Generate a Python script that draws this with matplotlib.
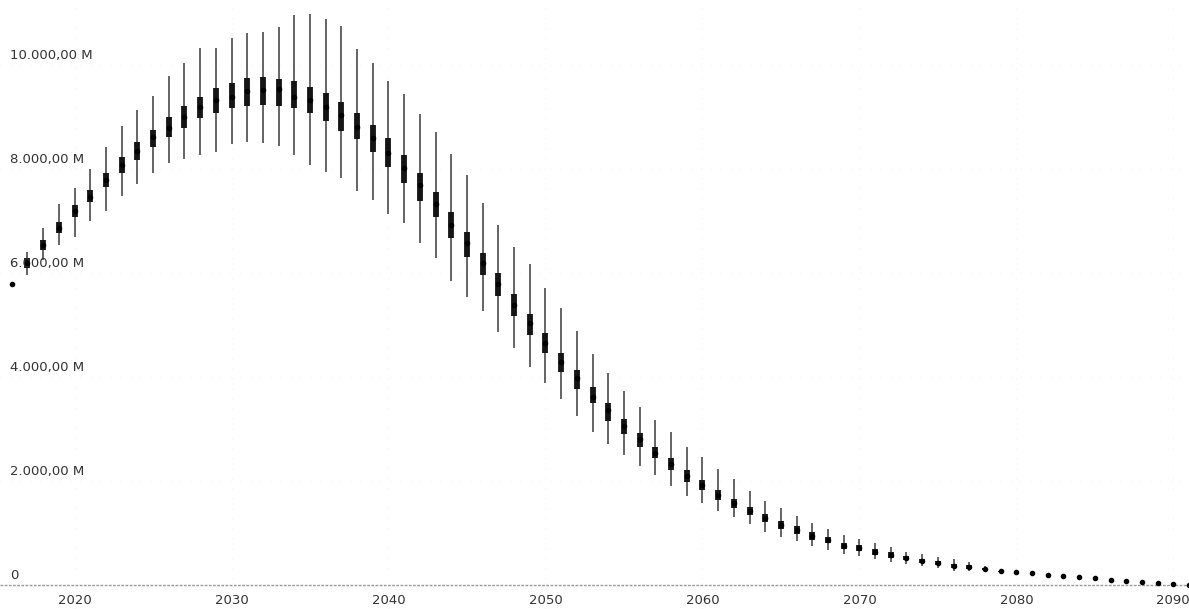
import matplotlib
matplotlib.use("Agg")
import matplotlib.pyplot as plt

# yearly distribution (values in millions): low whisker, q1, median, q3, high whisker
years = list(range(2016, 2092))

low = [5790, 5960, 6250, 6540, 6690, 7000, 7190, 7480, 7710, 7920,
       8115, 8190, 8270, 8330, 8480, 8520, 8500, 8440, 8270, 8080,
       7940, 7830, 7580, 7400, 7135, 6960, 6580, 6290, 5850, 5540,
       5270, 4865, 4560, 4190, 3885, 3580, 3250, 2940, 2710, 2500,
       2290, 2115, 1900, 1710, 1580, 1420, 1310, 1170, 1020, 920,
       850, 750, 670, 600, 560, 500, 440, 405, 365, 325,
       270, 270, 250, 240, 230, 215, 185, 166, 148, 129,
       90, 72, 54, 34, 15, 0]
q1 = [5790, 6100, 6440, 6770, 7080, 7365, 7650, 7920, 8170, 8420,
      8615, 8790, 8980, 9080, 9170, 9210, 9230, 9210, 9170, 9080,
      8920, 8730, 8580, 8330, 8040, 7730, 7385, 7080, 6670, 6310,
      5960, 5560, 5170, 4810, 4460, 4100, 3770, 3500, 3150, 2900,
      2650, 2440, 2210, 1980, 1830, 1635, 1480, 1350, 1210, 1080,
      980, 865, 810, 690, 655, 580, 520, 480, 425, 385,
      330, 310, 290, 260, 245, 225, 192, 173, 154, 135,
      96, 77, 58, 38, 19, 0]
median = [5790, 6190, 6540, 6865, 7190, 7460, 7790, 8080, 8350, 8615,
          8790, 9000, 9190, 9330, 9385, 9500, 9520, 9540, 9385, 9330,
          9190, 9040, 8810, 8600, 8310, 8020, 7690, 7330, 6920, 6580,
          6190, 5790, 5385, 5040, 4650, 4290, 3980, 3615, 3365, 3060,
          2810, 2540, 2330, 2100, 1920, 1730, 1580, 1420, 1290, 1150,
          1060, 940, 865, 750, 710, 635, 575, 520, 460, 425,
          365, 345, 310, 270, 250, 231, 192, 173, 154, 135,
          96, 77, 58, 38, 19, 0]
q3 = [5790, 6290, 6635, 6980, 7310, 7600, 7920, 8230, 8520, 8750,
      9000, 9210, 9385, 9560, 9650, 9750, 9770, 9730, 9690, 9580,
      9460, 9290, 9080, 8850, 8600, 8270, 7920, 7560, 7170, 6790,
      6385, 6000, 5600, 5210, 4850, 4460, 4135, 3810, 3500, 3190,
      2920, 2650, 2440, 2210, 2020, 1830, 1650, 1500, 1365, 1230,
      1135, 1020, 920, 810, 770, 690, 635, 560, 500, 460,
      405, 385, 330, 280, 255, 237, 192, 173, 154, 135,
      96, 77, 58, 38, 19, 0]
high = [5790, 6400, 6865, 7330, 7635, 8000, 8420, 8830, 9135, 9400,
        9790, 10040, 10330, 10330, 10520, 10615, 10635, 10730, 10960, 10980,
        10885, 10750, 10310, 10040, 9690, 9440, 9060, 8710, 8290, 7885,
        7345, 6920, 6500, 6170, 5710, 5330, 4885, 4440, 4080, 3730,
        3420, 3170, 2940, 2650, 2460, 2230, 2040, 1810, 1615, 1480,
        1330, 1190, 1080, 960, 885, 810, 730, 635, 595, 540,
        500, 440, 365, 300, 270, 245, 200, 180, 160, 140,
        100, 80, 62, 42, 22, 0]

y_ticks = [0, 2000, 4000, 6000, 8000, 10000]
y_tick_labels = ["0", "2.000,00 M", "4.000,00 M", "6.000,00 M", "8.000,00 M", "10.000,00 M"]
x_ticks = [2020, 2030, 2040, 2050, 2060, 2070, 2080, 2090]

fig = plt.figure(figsize=(11.89, 6.09), dpi=100)
ax = fig.add_axes([0, 0, 1, 1])
ax.set_xlim(2015.25, 2091.0)
ax.set_ylim(-460, 11250)

for s in ax.spines.values():
    s.set_visible(False)

# very faint grid
for v in y_ticks[1:]:
    ax.axhline(v, color="#f4f4f4", lw=0.8, ls=(0, (1, 8)), zorder=0)
for x in x_ticks:
    ax.axvline(x, color="#f4f4f4", lw=0.8, ls=(0, (1, 8)), zorder=0)
ax.axhline(0, color="#9a9a9a", lw=1.0, ls=(0, (2, 1)), zorder=1)

# whiskers, boxes, medians
ax.vlines(years, low, high, color="#4a4a4a", lw=1.2, zorder=2)
ax.vlines(years, q1, q3, color="#151515", lw=4.2, zorder=3)
ax.plot(years, median, "o", color="#000000", ms=3.0, zorder=4)

# axis labels
ax.set_yticks([])
ax.set_xticks(x_ticks)
ax.set_xticklabels([str(x) for x in x_ticks])
ax.tick_params(axis="x", length=0, pad=-11, labelsize=9.5, labelcolor="#333333")
for lab in ax.get_xticklabels():
    lab.set_verticalalignment("top")

for v, lab in zip(y_ticks, y_tick_labels):
    ax.annotate(lab, xy=(0, v), xycoords=("axes fraction", "data"),
                xytext=(7, 2.5), textcoords="offset points",
                ha="left", va="bottom", fontsize=9.5, color="#333333")

fig.savefig("out.png", dpi=100)
